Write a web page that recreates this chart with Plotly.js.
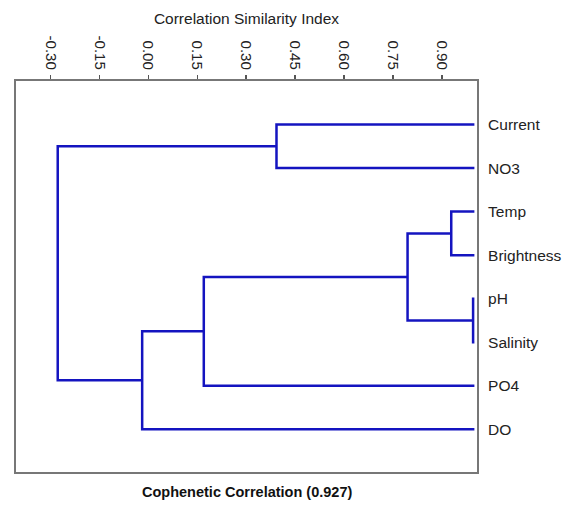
<!DOCTYPE html>
<html>
<head>
<meta charset="utf-8">
<script src="https://cdn.plot.ly/plotly-3.0.1.min.js"></script>
<style>html,body{margin:0;padding:0;background:#fff;}</style>
</head>
<body>
<div id="chart" style="width:569px;height:506px;"></div>
<script>
// Leaves in display order (top to bottom)
var leaves = ["Current", "NO3", "Temp", "Brightness", "pH", "Salinity", "PO4", "DO"];
// Merge steps: negative = leaf index (-(i+1)), positive = earlier merge number (1-based)
var mergeLeft  = [-5, -3, 2, -1, 3, 5, 4];
var mergeRight = [-6, -4, 1, -2, -7, -8, 6];
var mergeHeight = [0.996, 0.929, 0.795, 0.393, 0.170, -0.019, -0.278];
var leafSimilarity = 1.0;
var tickVals = [-0.30, -0.15, 0.00, 0.15, 0.30, 0.45, 0.60, 0.75, 0.90];
var tickLabels = ["-0.30", "-0.15", "0.00", "0.15", "0.30", "0.45", "0.60", "0.75", "0.90"];
var cophenetic = 0.927;

// Build dendrogram segments from merge data
var nodeX = [], nodeY = [];
function pos(ref) {
  if (ref < 0) return {x: leafSimilarity, y: (-ref) - 1};
  return {x: nodeX[ref - 1], y: nodeY[ref - 1]};
}
var xs = [], ys = [];
for (var i = 0; i < mergeHeight.length; i++) {
  var a = pos(mergeLeft[i]), b = pos(mergeRight[i]);
  var h = mergeHeight[i];
  xs.push(a.x, h, h, b.x, null);
  ys.push(a.y, a.y, b.y, b.y, null);
  nodeX.push(h);
  nodeY.push((a.y + b.y) / 2);
}

var trace = {
  x: xs, y: ys, type: "scatter", mode: "lines",
  line: {color: "#1414c0", width: 2.5},
  hoverinfo: "skip", showlegend: false
};

var layout = {
  width: 569, height: 506,
  margin: {l: 16, r: 92, t: 81, b: 34},
  paper_bgcolor: "#ffffff", plot_bgcolor: "#ffffff",
  font: {family: "Arial, 'Liberation Sans', sans-serif", color: "#222", size: 14},
  xaxis: {
    side: "top",
    range: [-0.406, 1.008],
    tickvals: tickVals, ticktext: tickLabels,
    tickangle: 90,
    ticks: "outside", ticklen: 4, tickwidth: 1.5, tickcolor: "#555",
    tickfont: {size: 15, color: "#222"},
    showgrid: false, zeroline: false,
    showline: true, mirror: true, linecolor: "#777", linewidth: 2,
    title: {text: "Correlation Similarity Index", font: {size: 15.5, color: "#222"}, standoff: 7}
  },
  yaxis: {
    side: "right",
    range: [7.98, -1.0],
    tickvals: leaves.map(function(_, i){return i;}),
    ticktext: leaves,
    ticks: "outside", ticklen: 6, tickcolor: "rgba(0,0,0,0)",
    tickfont: {size: 15.5, color: "#222"},
    showgrid: false, zeroline: false,
    showline: true, mirror: true, linecolor: "#777", linewidth: 2
  },
  annotations: [{
    text: "<b>Cophenetic Correlation (" + cophenetic.toFixed(3) + ")</b>",
    xref: "paper", yref: "paper", x: 0.5, y: -0.052, yanchor: "middle",
    showarrow: false, font: {size: 14.5, color: "#111"}
  }]
};

Plotly.newPlot("chart", [trace], layout, {displayModeBar: false, staticPlot: true});
</script>
</body>
</html>
